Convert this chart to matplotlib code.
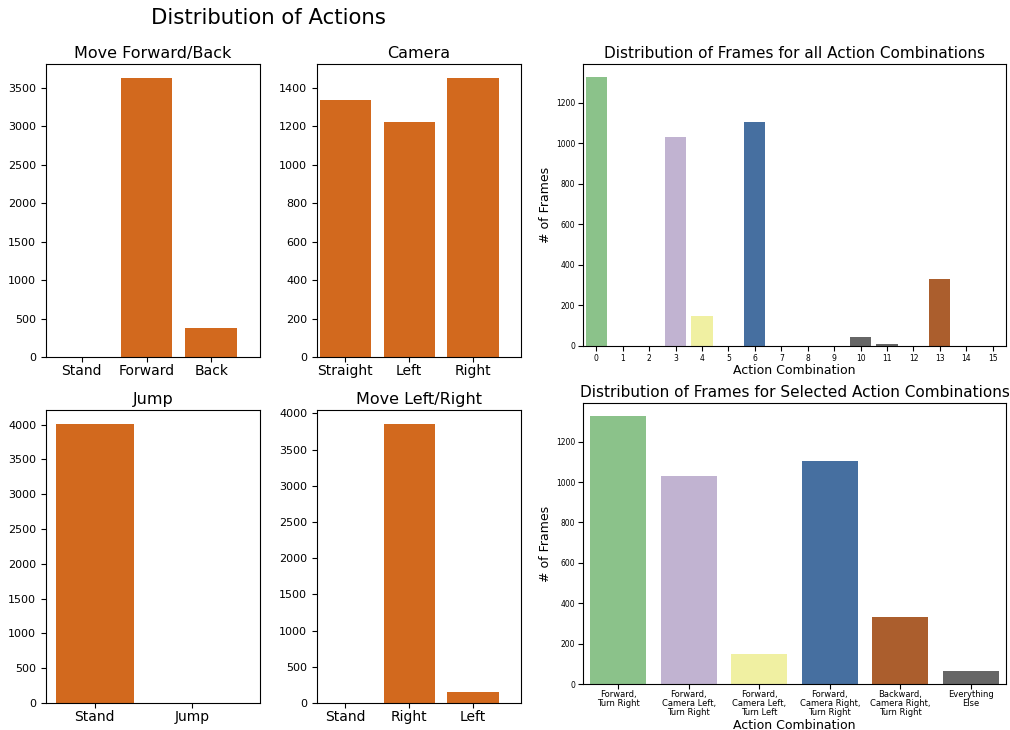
import matplotlib
matplotlib.use('Agg')
import matplotlib.pyplot as plt
import numpy as np

# per-action frame counts
fwd_labels = ['Stand', 'Forward', 'Back']
fwd_counts = [0, 3630, 376]
cam_labels = ['Straight', 'Left', 'Right']
cam_counts = [1338, 1224, 1452]
jump_labels = ['Stand', 'Jump']
jump_counts = [4010, 0]
lr_labels = ['Stand', 'Right', 'Left']
lr_counts = [0, 3855, 150]

# frames per action combination (index = combination id)
combo_ids = list(range(16))
combo_counts = [1325, 1, 2, 1030, 148, 1, 1103, 2, 1, 1, 42, 8, 2, 330, 1, 1]

selected_ids = [0, 3, 4, 6, 13]
selected_labels = ['Forward,\nTurn Right',
                   'Forward,\nCamera Left,\nTurn Right',
                   'Forward,\nCamera Left,\nTurn Left',
                   'Forward,\nCamera Right,\nTurn Right',
                   'Backward,\nCamera Right,\nTurn Right',
                   'Everything\nElse']

selected_colors = {0: '#8bc28a', 3: '#c1b3d1', 4: '#f0f0a2', 6: '#466fa0', 13: '#ab5e2d'}
other_color = '#666666'
bar_color = '#d2691e'

W, H = 1010, 730
fig = plt.figure(figsize=(W / 100, H / 100), dpi=100)


def px_axes(left, top, right, bottom):
    return fig.add_axes([left / W, 1 - bottom / H, (right - left) / W, (bottom - top) / H])


def action_panel(ax, labels, counts, title, xlim):
    ax.bar(range(len(labels)), counts, width=0.8, color=bar_color)
    ax.set_xticks(range(len(labels)))
    ax.set_xticklabels(labels, fontsize=10)
    ax.tick_params(axis='x', pad=1.5)
    ax.tick_params(axis='y', labelsize=8)
    ax.set_title(title, fontsize=11.5, pad=4)
    ax.set_xlim(*xlim)


ax1 = px_axes(46, 64, 260, 357)
action_panel(ax1, fwd_labels, fwd_counts, 'Move Forward/Back', (-0.55, 2.75))
ax2 = px_axes(317, 64, 521, 357)
action_panel(ax2, cam_labels, cam_counts, 'Camera', (-0.44, 2.75))
ax3 = px_axes(46, 410, 260, 703)
action_panel(ax3, jump_labels, jump_counts, 'Jump', (-0.5, 1.7))
ax4 = px_axes(317, 410, 521, 703)
action_panel(ax4, lr_labels, lr_counts, 'Move Left/Right', (-0.44, 2.75))

fig.text(268 / W, 1 - 18 / H, 'Distribution of Actions', fontsize=15.3, ha='center', va='center')

# all combinations
ax5 = px_axes(583, 64, 1006, 346)
colors_all = [selected_colors.get(i, other_color) for i in combo_ids]
ax5.bar(combo_ids, combo_counts, width=0.8, color=colors_all)
ax5.set_xlim(-0.5, 15.5)
ax5.set_xticks(combo_ids)
ax5.tick_params(labelsize=5.5, pad=2)
ax5.set_xlabel('Action Combination', fontsize=9, labelpad=1)
ax5.set_ylabel('# of Frames', fontsize=9, labelpad=3)
ax5.set_title('Distribution of Frames for all Action Combinations', fontsize=11, pad=4)

# selected combinations plus the remainder
sel_counts = [combo_counts[i] for i in selected_ids]
sel_counts.append(sum(c for i, c in zip(combo_ids, combo_counts) if i not in selected_ids))
sel_colors = [selected_colors[i] for i in selected_ids] + [other_color]

ax6 = px_axes(583, 403, 1006, 684)
x6 = np.arange(len(sel_counts))
ax6.bar(x6, sel_counts, width=0.8, color=sel_colors)
ax6.set_xlim(-0.5, len(sel_counts) - 0.5)
ax6.set_xticks(x6)
ax6.set_xticklabels(selected_labels, fontsize=6, linespacing=1.0)
ax6.tick_params(axis='x', pad=1)
ax6.tick_params(axis='y', labelsize=5.5, pad=2)
ax6.set_xlabel('Action Combination', fontsize=9, labelpad=1)
ax6.set_ylabel('# of Frames', fontsize=9, labelpad=3)
ax6.set_title('Distribution of Frames for Selected Action Combinations', fontsize=11, pad=4)

fig.savefig('out.png', dpi=100)
